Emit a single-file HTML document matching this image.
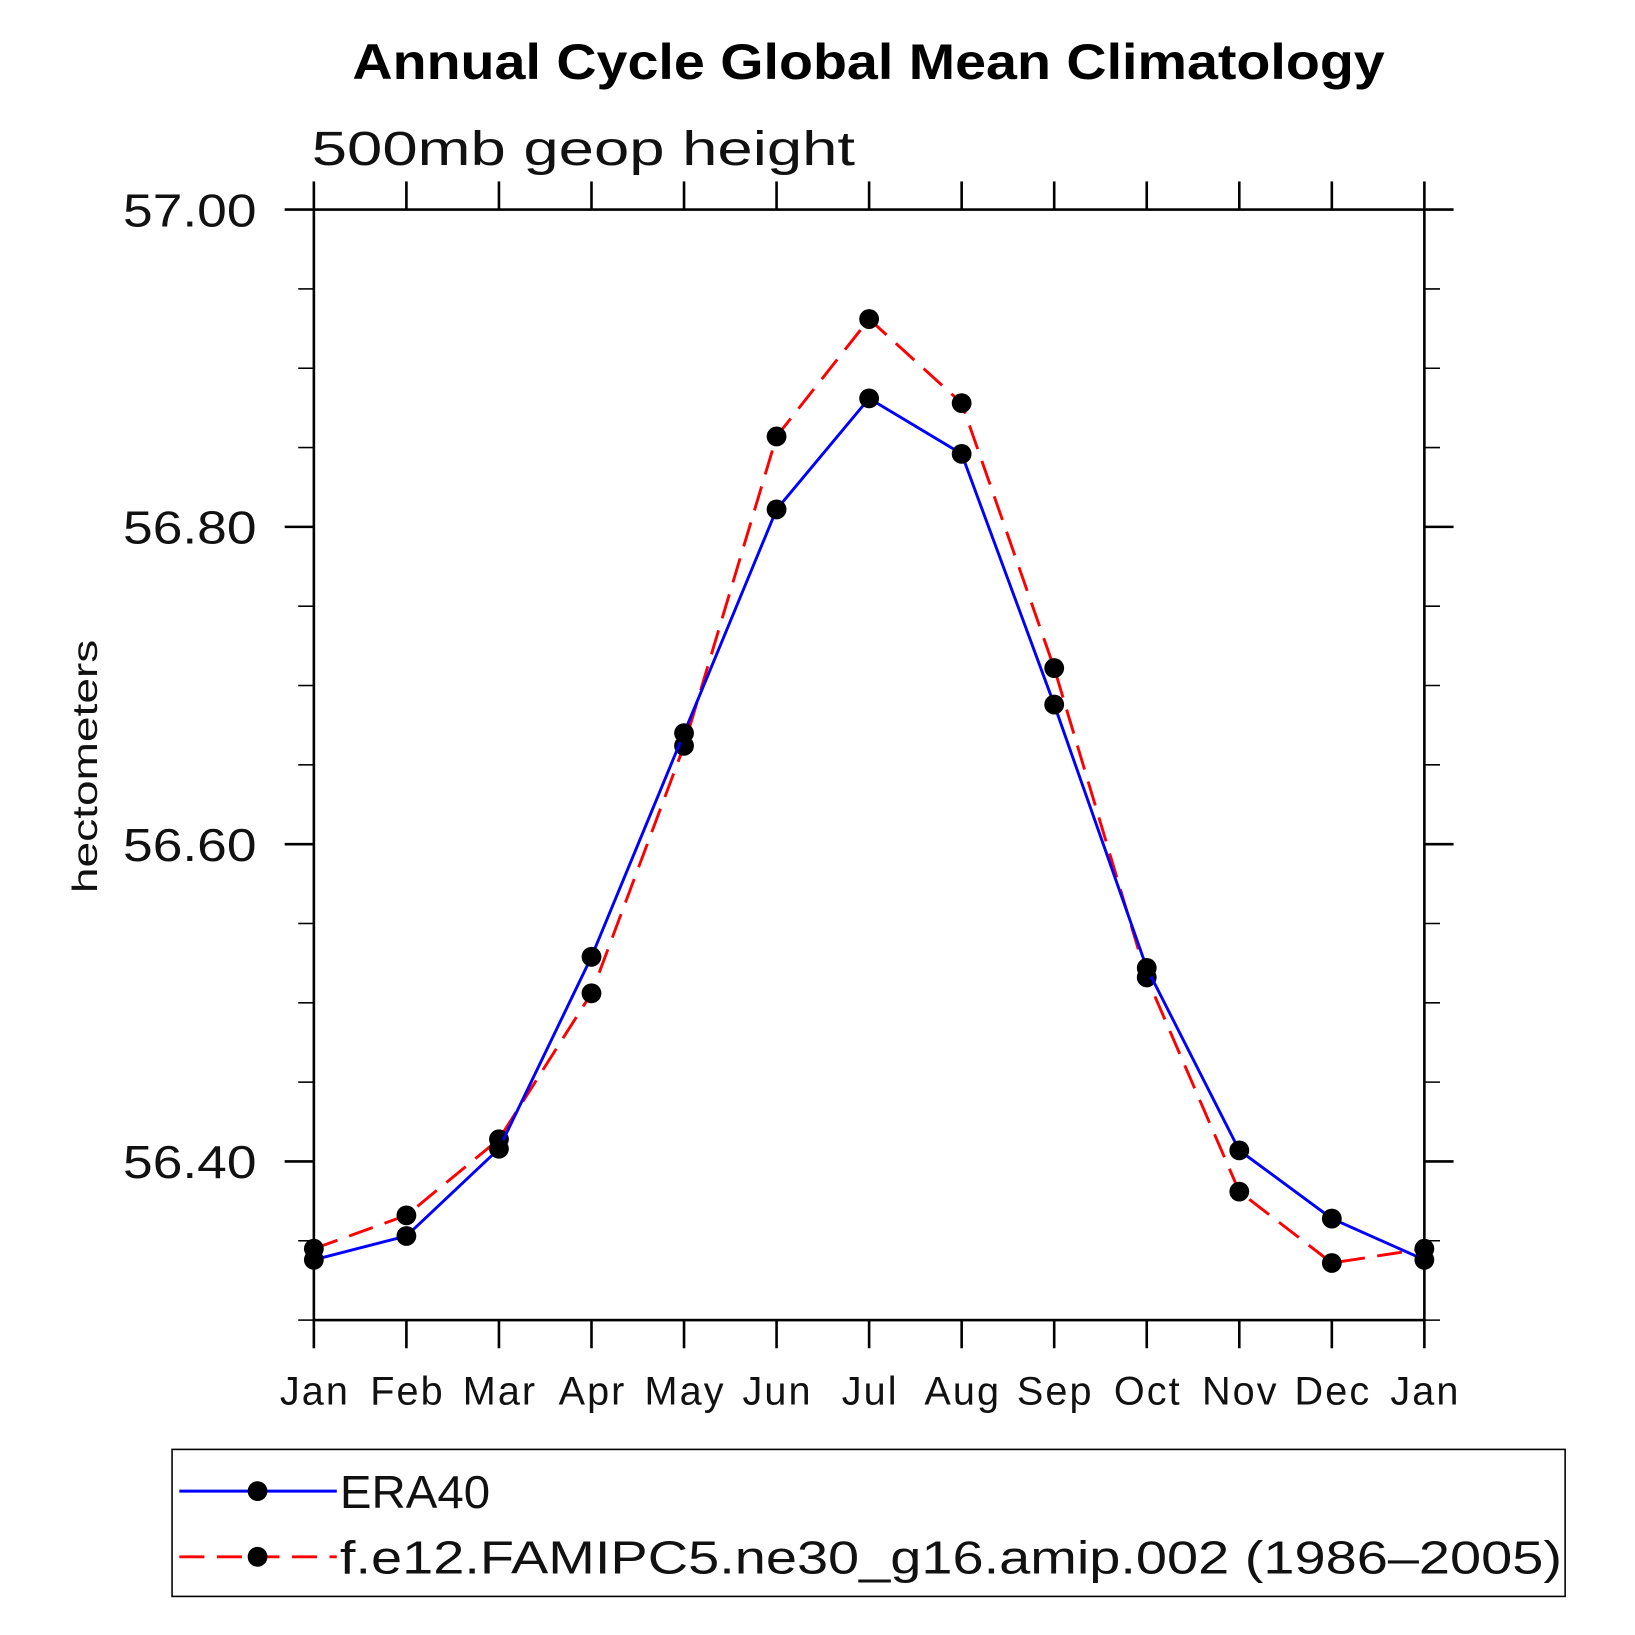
<!DOCTYPE html>
<html><head><meta charset="utf-8"><style>
html,body{margin:0;padding:0;background:#fff;}
svg{display:block;}
text{font-family:"Liberation Sans",sans-serif;}
</style></head><body>
<svg id="chart" width="1635" height="1635" viewBox="0 0 1568 1568" xmlns="http://www.w3.org/2000/svg">
<rect width="1568" height="1568" fill="#fff"/>
<text x="833" y="76" text-anchor="middle" font-size="48" font-weight="bold" textLength="990" lengthAdjust="spacingAndGlyphs">Annual Cycle Global Mean Climatology</text>
<text x="299" y="158" font-size="46" font-weight="300" textLength="521" lengthAdjust="spacingAndGlyphs" fill="#111">500mb geop height</text>
<text transform="translate(93,735) rotate(-90)" text-anchor="middle" font-size="34" textLength="243" lengthAdjust="spacingAndGlyphs" fill="#111">hectometers</text>
<g id="axes"></g>
<g id="series"></g>
<g>
<rect x="165" y="1390" width="1336" height="141" fill="none" stroke="#000" stroke-width="1.5"/>
<g>
<line x1="172" y1="1430" x2="323" y2="1430" stroke="#00f" stroke-width="2.8"/>
<circle cx="247" cy="1430" r="9.5" fill="#000"/>
<text x="326" y="1446" font-size="44" textLength="144" lengthAdjust="spacingAndGlyphs" fill="#111">ERA40</text>
</g>
<g>
<line x1="172" y1="1493" x2="323" y2="1493" stroke="#f00" stroke-width="2.8" stroke-dasharray="24,12"/>
<circle cx="247" cy="1493" r="9.5" fill="#000"/>
<text x="326" y="1509" font-size="44" textLength="1172" lengthAdjust="spacingAndGlyphs" fill="#111">f.e12.FAMIPC5.ne30_g16.amip.002 (1986–2005)</text>
</g>
</g>
</svg>
<script>
const months = ["Jan","Feb","Mar","Apr","May","Jun","Jul","Aug","Sep","Oct","Nov","Dec","Jan"];
const era40 = [56.338,56.353,56.408,56.529,56.670,56.811,56.881,56.846,56.688,56.522,56.407,56.364,56.338];
const model = [56.345,56.366,56.414,56.506,56.662,56.857,56.931,56.878,56.711,56.516,56.381,56.336,56.345];
const yTickValues = [57.00,56.80,56.60,56.40];
const yTickLabels = ["57.00","56.80","56.60","56.40"];
const yMin = 56.30, yMax = 57.00, yMinorStep = 0.05;

const L=301,R=1366,T=201,B=1266;
const NS="http://www.w3.org/2000/svg";
function xs(i){return L+(R-L)*i/(months.length-1);}
function ys(v){return B-(B-T)*(v-yMin)/(yMax-yMin);}
function mk(tag,attrs,parent){const e=document.createElementNS(NS,tag);for(const k in attrs)e.setAttribute(k,attrs[k]);parent.appendChild(e);return e;}
const axes=document.getElementById('axes');
const frame=mk('rect',{x:L,y:T,width:R-L,height:B-T,fill:'none',stroke:'#000','stroke-width':2.5},axes);


const nMinor=Math.round((yMax-yMin)/yMinorStep);
for(let k=0;k<=nMinor;k++){
  const v=yMin+k*yMinorStep;
  const major=yTickValues.some(t=>Math.abs(t-v)<1e-6);
  const len=major?28:15;
  const y=ys(v);
  const t1=mk('line',{x1:L-len,y1:y,x2:L,y2:y,stroke:'#000','stroke-width':major?2.5:1.5},axes);
  
  
  const t2=mk('line',{x1:R,y1:y,x2:R+len,y2:y,stroke:'#000','stroke-width':major?2.5:1.5},axes);
  
  
}
yTickValues.forEach((v,i)=>{
  const t=mk('text',{x:246,y:ys(v)+16,'text-anchor':'end','font-size':44,textLength:128,lengthAdjust:'spacingAndGlyphs',fill:'#111'},axes);
  t.textContent=yTickLabels[i];
  
  
});
months.forEach((m,i)=>{
  const x=xs(i);
  const a=mk('line',{x1:x,y1:B,x2:x,y2:B+27,stroke:'#000','stroke-width':2.5},axes);
  
  
  const b=mk('line',{x1:x,y1:T-27,x2:x,y2:T,stroke:'#000','stroke-width':2.5},axes);
  
  
  const t=mk('text',{x:x+1,y:1347,'text-anchor':'middle','font-size':38,'letter-spacing':2,fill:'#111'},axes);
  t.textContent=m;
  
  
});
const series=document.getElementById('series');
function drawSeries(vals,color,dash,name){
  const g=mk('g',{},series);
  
  
  const pts=vals.map((v,i)=>xs(i)+','+ys(v)).join(' ');
  const attrs={points:pts,fill:'none',stroke:color,'stroke-width':2.8};
  if(dash)attrs['stroke-dasharray']=dash;
  const pl=mk('polyline',attrs,g);
  
  
  vals.forEach((v,i)=>{
    const c=mk('circle',{cx:xs(i),cy:ys(v),r:9.5,fill:'#000'},g);
    
    
  });
}
drawSeries(model,'#f00','24,12','model');
drawSeries(era40,'#00f',null,'era40');
</script>
</body></html>
